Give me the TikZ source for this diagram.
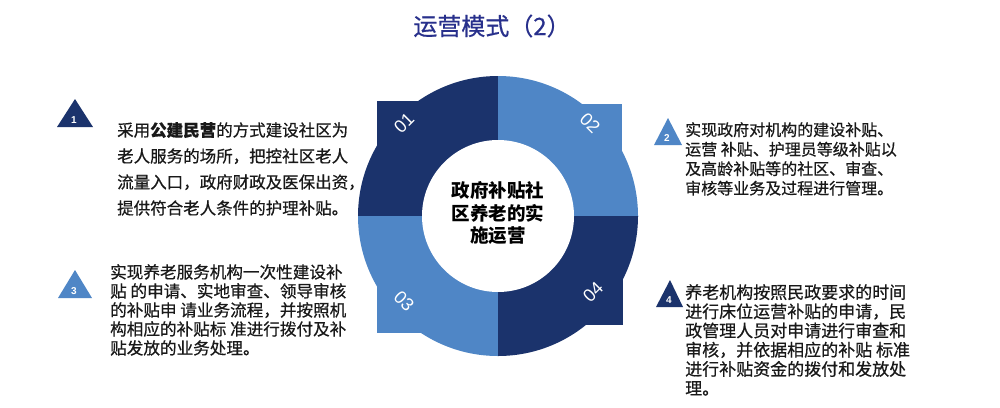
\documentclass[tikz,border=0pt]{standalone}
\usepackage{fontspec}
\setmainfont{Noto Sans CJK SC}
\newfontfamily\bodyfont[FakeBold=0.6]{Noto Sans CJK SC}
\newfontfamily\numfont{Liberation Sans}
\definecolor{navy}{RGB}{27,51,108}
\definecolor{lightblue}{RGB}{79,134,198}
\definecolor{titleblue}{RGB}{40,48,140}
\definecolor{bodytext}{RGB}{25,25,25}
\tikzset{
  bodyblock/.style={anchor=north west, inner sep=0pt, align=left, text=bodytext},
  ringnum/.style={text=white, font=\numfont\fontsize{18}{18}\selectfont, inner sep=0pt},
  trinum/.style={text=white, font=\numfont\bfseries\fontsize{10}{10}\selectfont, inner sep=0pt},
}
\begin{document}
\begin{tikzpicture}[x=1pt,y=-1pt]
\useasboundingbox (0,0) rectangle (1000,407);
\fill[white] (0,0) rectangle (1000,407);
% title
\node[text=titleblue, font=\bodyfont\fontsize{24}{24}\selectfont, inner sep=0pt] (title) at (492,26) {运营模式（2）};
% ring
\coordinate (c) at (498,216);
\begin{scope}
  \clip (c) rectangle ++(-200,-200);
  \fill[navy] (c) circle[radius=140pt];
\end{scope}
\fill[navy] (377,101) rectangle (c);
\begin{scope}
  \clip (c) rectangle ++(200,-200);
  \fill[lightblue] (c) circle[radius=140pt];
\end{scope}
\fill[lightblue] (622,104) rectangle (c);
\begin{scope}
  \clip (c) rectangle ++(-200,200);
  \fill[lightblue] (c) circle[radius=140pt];
\end{scope}
\fill[lightblue] (377,333) rectangle (c);
\begin{scope}
  \clip (c) rectangle ++(200,200);
  \fill[navy] (c) circle[radius=140pt];
\end{scope}
\fill[navy] (623,325) rectangle (c);
\fill[white] (c) circle[radius=76pt];
% ring numbers
\node[ringnum, rotate=45] (n1) at (404,123) {01};
\node[ringnum, rotate=-45] (n2) at (590,123) {02};
\node[ringnum, rotate=-45] (n3) at (404,301) {03};
\node[ringnum, rotate=45] (n4) at (593,292) {04};
% center text
\node[inner sep=0pt, align=center, text=black, font=\bfseries\fontsize{18.5}{22.5}\selectfont] (center) at (498,213) {政府补贴社\\区养老的实\\施运营};
% triangles
\fill[navy] (75,99) -- (93,127) -- (57,127) -- cycle;
\node[trinum] (t1) at (74,120) {1};
\fill[lightblue] (668,118) -- (682,145) -- (654,145) -- cycle;
\node[trinum] (t2) at (667,138) {2};
\fill[lightblue] (75,270) -- (92,298) -- (58,298) -- cycle;
\node[trinum] (t3) at (74,291) {3};
\fill[navy] (670,280) -- (683,307) -- (656,307) -- cycle;
\node[trinum] (t4) at (669,300) {4};
% text blocks
\node[bodyblock, font=\bodyfont\fontsize{16.5}{26}\selectfont] (b1) at (117,122) {采用\textbf{公建民营}的方式建设社区为\\老人服务的场所，把控社区老人\\流量入口，政府财政及医保出资，\\提供符合老人条件的护理补贴。};
\node[bodyblock, font=\bodyfont\fontsize{16}{19.5}\selectfont] (b2) at (685,122) {实现政府对机构的建设补贴、\\运营 补贴、护理员等级补贴以\\及高龄补贴等的社区、审查、\\审核等业务及过程进行管理。};
\node[bodyblock, font=\bodyfont\fontsize{16.6}{19}\selectfont] (b3) at (110,264) {实现养老服务机构一次性建设补\\贴 的申请、实地审查、领导审核\\的补贴申 请业务流程，并按照机\\构相应的补贴标 准进行拨付及补\\贴发放的业务处理。};
\node[bodyblock, font=\bodyfont\fontsize{17}{19.2}\selectfont] (b4) at (685,284) {养老机构按照民政要求的时间\\进行床位运营补贴的申请，民\\政管理人员对申请进行审查和\\审核，并依据相应的补贴 标准\\进行补贴资金的拨付和发放处\\理。};
\end{tikzpicture}
\end{document}
